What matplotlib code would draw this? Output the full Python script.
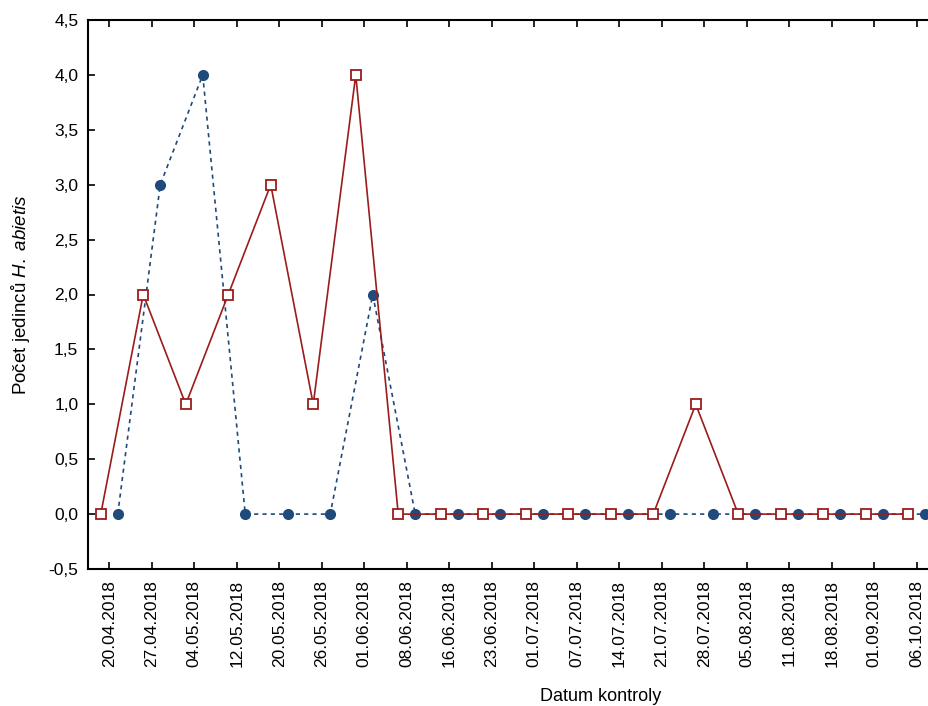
import numpy as np
from matplotlib import pyplot as plt

plt.rcParams['font.family'] = ['Liberation Sans', 'DejaVu Sans']
plt.rcParams['mathtext.fontset'] = 'custom'
plt.rcParams['mathtext.it'] = 'Liberation Sans:italic'
plt.rcParams['mathtext.rm'] = 'Liberation Sans'

# data
dates = ['20.04.2018', '27.04.2018', '04.05.2018', '12.05.2018', '20.05.2018',
         '26.05.2018', '01.06.2018', '08.06.2018', '16.06.2018', '23.06.2018',
         '01.07.2018', '07.07.2018', '14.07.2018', '21.07.2018', '28.07.2018',
         '05.08.2018', '11.08.2018', '18.08.2018', '01.09.2018', '06.10.2018']
red_counts = [0, 2, 1, 2, 3, 1, 4, 0, 0, 0, 0, 0, 0, 0, 1, 0, 0, 0, 0, 0]
blue_counts = [0, 3, 4, 0, 0, 0, 2, 0, 0, 0, 0, 0, 0, 0, 0, 0, 0, 0, 0, 0]
y_ticks = [-0.5, 0.0, 0.5, 1.0, 1.5, 2.0, 2.5, 3.0, 3.5, 4.0, 4.5]

red = '#9b1c1c'
blue = '#1f4a7c'

fig = plt.figure(figsize=(9.29, 7.06), dpi=100)
ax = fig.add_axes([88 / 929, 137 / 706, 850 / 929, 549 / 706])

x = np.arange(len(dates))
ax.plot(x - 0.2, red_counts, color=red, lw=1.2, marker='s', ms=7.5,
        mfc='white', mec=red, mew=1.3, zorder=3)
ax.plot(x + 0.2, blue_counts, color=blue, lw=1.2, ls=(0, (2.5, 2.5)),
        marker='o', ms=7, mfc=blue, mec=blue, zorder=2)

ax.set_xlim(-0.5, len(dates) - 0.5)
ax.set_ylim(-0.5, 4.5)
ax.set_xticks(x, dates, rotation=90)
ax.set_yticks(y_ticks, [f"{v:.1f}".replace('.', ',') for v in y_ticks])
ax.tick_params(direction='in', length=5, width=1.2, labelsize=12.5,
               top=True, pad=8, colors='black')
ax.tick_params(axis='y', pad=7)
for s in ax.spines.values():
    s.set_linewidth(1.5)

ax.set_xlabel('Datum kontroly', fontsize=13)
ax.xaxis.set_label_coords(513 / 850, -119 / 549)
ax.set_ylabel(r'Počet jedinců $\mathit{H.\ abietis}$', fontsize=13.5)
ax.yaxis.set_label_coords(-56 / 850, 0.5)

fig.savefig('out.png', dpi=100)
